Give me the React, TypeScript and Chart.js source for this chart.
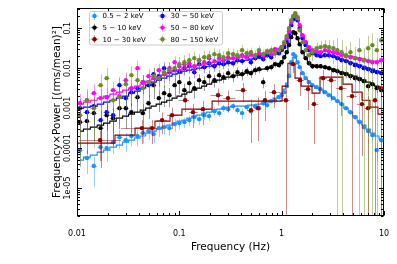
import React, { useEffect, useRef } from "react";
import { Chart, registerables } from "chart.js";

Chart.register(...registerables);

// ---------- data ----------
const FREQ = [
  0.0107, 0.0125, 0.0146, 0.017, 0.0195, 0.0225, 0.026, 0.03, 0.034, 0.039,
  0.044, 0.05, 0.056, 0.063, 0.071, 0.08, 0.09, 0.1, 0.112, 0.125,
  0.14, 0.156, 0.175, 0.195, 0.22, 0.245, 0.27, 0.3, 0.335, 0.37,
  0.41, 0.455, 0.5, 0.55, 0.6, 0.66, 0.72, 0.79, 0.86, 0.94,
  1.0, 1.06, 1.12, 1.18, 1.24, 1.3, 1.36, 1.43, 1.5, 1.6,
  1.72, 1.85, 2.0, 2.2, 2.4, 2.65, 2.9, 3.2, 3.5, 3.85,
  4.25, 4.7, 5.2, 5.75, 6.35, 7.0, 7.7, 8.5, 9.4,
];

// 0.5 - 2 keV
const SOFT = [
  8.91e-5, 5.62e-5, 3.55e-5, 1.06e-4, 1.0e-4, 1.41e-4, 1.88e-4, 1.58e-4, 2.0e-4, 2.0e-4,
  2.37e-4, 2.66e-4, 2.24e-4, 3.16e-4, 3.35e-4, 3.16e-4, 3.98e-4, 4.22e-4, 4.47e-4, 5.01e-4,
  5.96e-4, 5.31e-4, 6.68e-4, 6.31e-4, 8.41e-4, 7.5e-4, 1.0e-3, 9.44e-4, 1.12e-3, 8.91e-4,
  7.5e-4, 1.06e-3, 8.41e-4, 1.12e-3, 1.0e-3, 1.33e-3, 1.19e-3, 1.5e-3, 1.58e-3, 1.88e-3,
  2.11e-3, 2.51e-3, 3.55e-3, 6.31e-3, 0.0141, 0.0224, 0.02, 0.0141, 0.0106, 7.5e-3,
  5.62e-3, 4.47e-3, 3.76e-3, 3.35e-3, 2.99e-3, 2.51e-3, 2.11e-3, 1.78e-3, 1.5e-3, 1.26e-3,
  1.0e-3, 7.94e-4, 5.96e-4, 4.47e-4, 3.35e-4, 2.66e-4, 2.11e-4, 8.91e-5, 1.58e-4,
];
const SOFT_ERR = [
  0.6, 0.6, 0.7, 0.55, 0.55, 0.5, 0.5, 0.5, 0.45, 0.45,
  0.45, 0.4, 0.4, 0.4, 0.35, 0.35, 0.35, 0.3, 0.3, 0.3,
  0.3, 0.3, 0.25, 0.25, 0.25, 0.2, 0.2, 0.2, 0.2, 0.2,
  0.3, 0.2, 0.2, 0.18, 0.15, 0.15, 0.15, 0.12, 0.12, 0.12,
  0.1, 0.1, 0.08, 0.07, 0.06, 0.05, 0.05, 0.06, 0.06, 0.07,
  0.08, 0.08, 0.08, 0.08, 0.08, 0.08, 0.1, 0.1, 0.1, 0.12,
  0.12, 0.15, 0.15, 0.2, 0.2, 0.25, 0.3, 0.5, 0.35,
];
const SOFT_MODEL = [
  5.01e-5, 5.96e-5, 6.68e-5, 7.94e-5, 8.91e-5, 1.06e-4, 1.19e-4, 1.41e-4, 1.58e-4, 1.78e-4,
  2.0e-4, 2.37e-4, 2.66e-4, 2.99e-4, 3.35e-4, 3.76e-4, 4.22e-4, 4.73e-4, 5.01e-4, 5.62e-4,
  6.31e-4, 6.68e-4, 7.5e-4, 7.94e-4, 8.91e-4, 9.44e-4, 1.0e-3, 1.06e-3, 1.12e-3, 1.12e-3,
  1.12e-3, 1.12e-3, 1.19e-3, 1.19e-3, 1.26e-3, 1.33e-3, 1.41e-3, 1.58e-3, 1.78e-3, 2.0e-3,
  2.37e-3, 2.99e-3, 4.22e-3, 7.08e-3, 0.0133, 0.0188, 0.0178, 0.0133, 0.01, 7.08e-3,
  5.31e-3, 4.22e-3, 3.55e-3, 3.16e-3, 2.82e-3, 2.51e-3, 2.11e-3, 1.78e-3, 1.5e-3, 1.26e-3,
  1.0e-3, 7.94e-4, 6.31e-4, 4.73e-4, 3.76e-4, 2.99e-4, 2.37e-4, 2.0e-4, 1.68e-4,
];

// 5 - 10 keV
const H1 = [
  4.47e-4, 4.73e-4, 7.5e-4, 3.16e-4, 6.68e-4, 5.62e-4, 1.0e-3, 1.0e-3, 7.94e-4, 1.88e-3,
  7.5e-4, 1.33e-3, 3.76e-3, 1.78e-3, 2.37e-3, 2.11e-3, 3.76e-3, 4.47e-3, 2.82e-3, 4.22e-3,
  3.16e-3, 5.01e-3, 4.47e-3, 6.31e-3, 5.01e-3, 6.68e-3, 5.96e-3, 7.5e-3, 6.31e-3, 7.94e-3,
  7.08e-3, 8.41e-3, 7.5e-3, 8.91e-3, 9.44e-3, 4.47e-3, 0.01, 0.0106, 0.0126, 0.0119,
  0.0141, 0.0188, 0.0251, 0.0376, 0.0596, 0.0794, 0.075, 0.0562, 0.0398, 0.0251,
  0.0178, 0.0133, 0.0112, 0.0112, 0.0112, 0.0106, 0.01, 8.91e-3, 8.41e-3, 7.5e-3,
  7.08e-3, 6.31e-3, 5.62e-3, 5.31e-3, 4.73e-3, 3.55e-3, 3.98e-3, 3.16e-3, 2.82e-3,
];
const H1_ERR = [
  0.85, 0.85, 0.8, 0.9, 0.8, 0.8, 0.7, 0.7, 0.7, 0.6,
  0.7, 0.6, 0.55, 0.55, 0.55, 0.5, 0.5, 0.5, 0.45, 0.45,
  0.45, 0.4, 0.4, 0.4, 0.35, 0.35, 0.3, 0.3, 0.3, 0.3,
  0.3, 0.25, 0.25, 0.25, 0.2, 0.3, 0.2, 0.18, 0.18, 0.15,
  0.15, 0.12, 0.1, 0.08, 0.07, 0.06, 0.06, 0.07, 0.08, 0.1,
  0.12, 0.14, 0.15, 0.15, 0.15, 0.15, 0.15, 0.15, 0.18, 0.18,
  0.2, 0.2, 0.2, 0.22, 0.22, 0.25, 0.25, 0.25, 0.28,
];
const H1_MODEL = [
  2.66e-4, 2.99e-4, 3.35e-4, 3.76e-4, 4.22e-4, 4.73e-4, 5.62e-4, 6.31e-4, 7.08e-4, 7.94e-4,
  8.91e-4, 1.0e-3, 1.12e-3, 1.26e-3, 1.41e-3, 1.58e-3, 1.78e-3, 2.0e-3, 2.24e-3, 2.51e-3,
  2.82e-3, 3.16e-3, 3.55e-3, 3.98e-3, 4.47e-3, 5.01e-3, 5.31e-3, 5.96e-3, 6.31e-3, 6.68e-3,
  7.08e-3, 7.5e-3, 7.94e-3, 8.41e-3, 8.91e-3, 9.44e-3, 0.01, 0.0106, 0.0119, 0.0133,
  0.015, 0.0188, 0.0251, 0.0376, 0.0596, 0.075, 0.0708, 0.0531, 0.0376, 0.0251,
  0.0178, 0.0141, 0.0119, 0.0112, 0.0106, 0.0106, 0.01, 9.44e-3, 8.41e-3, 7.94e-3,
  7.5e-3, 6.68e-3, 6.31e-3, 5.62e-3, 5.01e-3, 4.47e-3, 3.98e-3, 3.55e-3, 3.16e-3,
];

// 10 - 30 keV (coarser binning)
const RED_FREQ = [
  0.0168, 0.0431, 0.0541, 0.0678, 0.0848, 0.114, 0.136, 0.17, 0.239, 0.299,
  0.419, 0.501, 0.587, 0.687, 0.841, 1.1, 1.29, 1.51, 1.81, 2.07,
  2.54, 3.04, 3.8, 4.87, 6.09, 6.98, 8.17, 9.35,
];
const H2 = [
  1.58e-4, 3.16e-4, 3.16e-4, 5.01e-4, 6.68e-4, 1.58e-3, 7.94e-4, 9.44e-4, 2.11e-3, 1.78e-3,
  2.82e-3, 8.91e-4, 1.0e-3, 1.58e-3, 2.51e-3, 1.58e-3, 0.0126, 5.01e-3, 2.99e-3, 1.26e-3,
  5.62e-3, 5.01e-3, 3.16e-3, 2.0e-3, 1.26e-3, 1.0e-3, 1.58e-3, 3.16e-3,
];
const H2_ERR = [
  0.7, 0.6, 0.6, 0.55, 0.55, 0.5, 0.6, 0.6, 0.45, 0.55,
  0.5, 0.85, 0.85, 0.7, 0.6, 1.0, 0.4, 0.6, 0.7, 0.9,
  0.6, 0.7, 0.8, 1.0, 0.95, 1.0, 1.0, 1.0,
];
const RED_MODEL_FREQ = [
  0.01, 0.0235, 0.0369, 0.0578, 0.0811, 0.106, 0.209, 1.01, 1.15, 1.35,
  1.55, 1.98, 2.37, 3.17, 3.97, 4.87, 6.1, 7.29, 8.73, 10,
];
const H2_MODEL = [
  1.33e-4, 2.11e-4, 3.16e-4, 4.73e-4, 6.68e-4, 9.44e-4, 1.5e-3, 3.55e-3, 0.0133, 5.62e-3,
  3.55e-3, 2.37e-3, 5.96e-3, 5.96e-3, 3.98e-3, 2.51e-3, 1.58e-3, 1.06e-3, 7.08e-4, 7.08e-4,
];

// 30 - 50 keV
const H3 = [
  1.0e-3, 7.94e-4, 1.12e-3, 5.01e-4, 7.94e-4, 6.68e-4, 3.76e-3, 1.78e-3, 2.51e-3, 3.16e-3,
  4.47e-3, 3.76e-3, 7.08e-3, 6.31e-3, 0.01, 7.94e-3, 8.91e-3, 8.41e-3, 0.01, 0.0112,
  7.94e-3, 0.0126, 0.0106, 0.0133, 0.0112, 0.0133, 0.0126, 0.0141, 0.0133, 0.0158,
  0.015, 0.0188, 0.0141, 0.0178, 0.02, 0.0168, 0.0211, 0.0188, 0.0237, 0.0237,
  0.0282, 0.0335, 0.0447, 0.0668, 0.119, 0.168, 0.188, 0.158, 0.1, 0.0562,
  0.0376, 0.0282, 0.0237, 0.0211, 0.02, 0.0211, 0.0211, 0.02, 0.0178, 0.0158,
  0.015, 0.0133, 0.0119, 0.0112, 0.01, 9.44e-3, 8.41e-3, 7.94e-3, 7.5e-3,
];
const H3_ERR = [
  0.65, 0.65, 0.65, 0.75, 0.65, 0.65, 0.55, 0.6, 0.55, 0.55,
  0.5, 0.5, 0.45, 0.45, 0.4, 0.4, 0.35, 0.35, 0.35, 0.35,
  0.3, 0.3, 0.3, 0.28, 0.28, 0.25, 0.25, 0.22, 0.22, 0.2,
  0.2, 0.18, 0.18, 0.16, 0.16, 0.15, 0.14, 0.13, 0.12, 0.12,
  0.1, 0.1, 0.08, 0.07, 0.06, 0.05, 0.05, 0.06, 0.07, 0.08,
  0.1, 0.1, 0.1, 0.1, 0.1, 0.1, 0.1, 0.1, 0.12, 0.12,
  0.12, 0.13, 0.14, 0.15, 0.15, 0.16, 0.18, 0.18, 0.2,
];
const H3_MODEL = [
  1.0e-3, 1.06e-3, 1.12e-3, 1.26e-3, 1.41e-3, 1.58e-3, 1.78e-3, 2.0e-3, 2.37e-3, 2.66e-3,
  3.16e-3, 3.76e-3, 4.47e-3, 5.01e-3, 5.62e-3, 6.31e-3, 7.08e-3, 7.5e-3, 8.41e-3, 8.91e-3,
  9.44e-3, 0.01, 0.0106, 0.0112, 0.0119, 0.0126, 0.0126, 0.0133, 0.0141, 0.015,
  0.015, 0.0158, 0.0168, 0.0178, 0.0178, 0.0188, 0.02, 0.0211, 0.0237, 0.0266,
  0.0299, 0.0355, 0.0473, 0.0708, 0.119, 0.168, 0.178, 0.15, 0.1, 0.0596,
  0.0398, 0.0299, 0.0251, 0.0224, 0.0211, 0.0211, 0.0211, 0.02, 0.0188, 0.0168,
  0.0158, 0.0141, 0.0133, 0.0119, 0.0112, 0.01, 9.44e-3, 8.41e-3, 7.94e-3,
];

// 50 - 80 keV
const H4 = [
  1.33e-3, 1.58e-3, 2.37e-3, 1.78e-3, 1.88e-3, 2.82e-3, 2.0e-3, 5.01e-3, 3.16e-3, 0.01,
  4.47e-3, 6.31e-3, 5.62e-3, 8.91e-3, 7.08e-3, 0.01, 0.0141, 0.0112, 0.0126, 0.0133,
  0.0112, 0.0158, 0.0141, 0.0178, 0.015, 0.0178, 0.0158, 0.0188, 0.0178, 0.02,
  0.0211, 0.0188, 0.0224, 0.02, 0.0237, 0.0211, 0.0266, 0.0224, 0.0299, 0.0282,
  0.0335, 0.0422, 0.0562, 0.0841, 0.141, 0.2, 0.224, 0.188, 0.119, 0.0668,
  0.0447, 0.0335, 0.0282, 0.0266, 0.0251, 0.0282, 0.0266, 0.0251, 0.0237, 0.0211,
  0.02, 0.0188, 0.0178, 0.0168, 0.0158, 0.015, 0.0141, 0.0141, 0.0158,
];
const H4_ERR = [
  0.7, 0.65, 0.65, 0.65, 0.65, 0.6, 0.6, 0.55, 0.55, 0.55,
  0.5, 0.5, 0.45, 0.45, 0.4, 0.4, 0.4, 0.35, 0.35, 0.35,
  0.35, 0.3, 0.3, 0.28, 0.28, 0.25, 0.25, 0.22, 0.22, 0.2,
  0.2, 0.2, 0.18, 0.18, 0.16, 0.15, 0.15, 0.14, 0.12, 0.12,
  0.12, 0.1, 0.09, 0.08, 0.07, 0.06, 0.06, 0.07, 0.07, 0.08,
  0.1, 0.12, 0.12, 0.12, 0.12, 0.12, 0.12, 0.12, 0.14, 0.14,
  0.15, 0.15, 0.16, 0.17, 0.18, 0.18, 0.2, 0.2, 0.22,
];
const H4_MODEL = [
  1.26e-3, 1.41e-3, 1.58e-3, 1.78e-3, 2.0e-3, 2.24e-3, 2.51e-3, 2.82e-3, 3.16e-3, 3.55e-3,
  3.98e-3, 4.73e-3, 5.31e-3, 5.96e-3, 6.68e-3, 7.5e-3, 8.41e-3, 8.91e-3, 0.01, 0.0106,
  0.0112, 0.0119, 0.0126, 0.0133, 0.0141, 0.015, 0.0158, 0.0168, 0.0178, 0.0178,
  0.0188, 0.02, 0.02, 0.0211, 0.0224, 0.0237, 0.0251, 0.0266, 0.0282, 0.0316,
  0.0355, 0.0422, 0.0562, 0.0841, 0.133, 0.188, 0.2, 0.168, 0.112, 0.0668,
  0.0447, 0.0335, 0.0282, 0.0266, 0.0251, 0.0266, 0.0266, 0.0251, 0.0237, 0.0224,
  0.0211, 0.02, 0.0188, 0.0178, 0.0168, 0.0158, 0.015, 0.015, 0.015,
];

// 80 - 150 keV
const H5 = [
  6.68e-4, 1.58e-3, 1.0e-3, 3.76e-3, 5.62e-3, 1.58e-3, 1.88e-3, 3.98e-3, 6.68e-3, 5.01e-3,
  3.16e-3, 4.47e-3, 6.31e-3, 5.62e-3, 7.94e-3, 8.91e-3, 0.01, 0.0126, 0.0141, 0.0158,
  0.0178, 0.0158, 0.0188, 0.02, 0.0224, 0.0211, 0.0188, 0.0237, 0.0224, 0.0211,
  0.0282, 0.0237, 0.0251, 0.0211, 0.0282, 0.0224, 0.0251, 0.0282, 0.0237, 0.0282,
  0.0335, 0.0447, 0.0631, 0.1, 0.158, 0.2, 0.237, 0.178, 0.0891, 0.0447,
  0.0282, 0.0211, 0.0251, 0.0316, 0.0335, 0.0355, 0.0335, 0.0316, 0.0282, 0.0251,
  0.0211, 0.0251, 0.0178, 0.0282, 0.0158, 0.0316, 0.0376, 0.0282, 0.05,
];
const H5_ERR = [
  0.95, 0.9, 0.9, 0.85, 0.8, 0.85, 0.8, 0.75, 0.7, 0.7,
  0.7, 0.65, 0.6, 0.6, 0.6, 0.55, 0.55, 0.5, 0.5, 0.5,
  0.45, 0.45, 0.45, 0.4, 0.4, 0.4, 0.4, 0.35, 0.35, 0.35,
  0.35, 0.3, 0.3, 0.3, 0.3, 0.3, 0.28, 0.28, 0.25, 0.25,
  0.25, 0.2, 0.15, 0.12, 0.1, 0.08, 0.08, 0.1, 0.12, 0.2,
  0.3, 0.45, 0.4, 0.4, 0.4, 0.45, 0.5, 0.6, 1.0, 1.0,
  0.7, 0.8, 0.9, 1.0, 1.0, 1.0, 1.0, 1.0, 1.0,
];

const SERIES_LABELS = ["0.5 − 2 keV", "5 − 10 keV", "10 − 30 keV", "30 − 50 keV", "50 − 80 keV", "80 − 150 keV"];
const SERIES_COLORS = ["#1e90ff", "#000000", "#8b0000", "#0000ff", "#ff00ff", "#6b8e23"];
const ERR_COLORS = [
  "rgba(30,144,255,0.45)", "rgba(0,0,0,0.4)", "rgba(139,0,0,0.45)",
  "rgba(0,0,255,0.4)", "rgba(255,0,255,0.4)", "rgba(107,142,35,0.45)",
];

const X_TICKS = [0.01, 0.1, 1, 10];
const X_TICK_LABELS = ["0.01", "0.1", "1", "10"];
const Y_TICKS = [0.1, 0.01, 0.001, 0.0001, 0.00001];
const Y_TICK_LABELS = ["0.1", "0.01", "0.001", "0.0001", "1e-05"];
const X_TITLE = "Frequency (Hz)";
const Y_TITLE = "Frequency×Power [(rms/mean)²]";

// ---------- plugins ----------
const errorBars = {
  id: "errorBars",
  beforeDatasetDraw(chart: any, args: any) {
    const ds = chart.data.datasets[args.index];
    if (!ds.errRel) return;
    const { ctx, chartArea: ca } = chart;
    const xs = chart.scales.x, ys = chart.scales.y;
    const pts = ds.data;
    ctx.save();
    ctx.beginPath();
    ctx.rect(ca.left, ca.top, ca.right - ca.left, ca.bottom - ca.top);
    ctx.clip();
    ctx.strokeStyle = ds.errColor;
    ctx.lineWidth = 1;
    for (let i = 0; i < pts.length; i++) {
      const p = pts[i];
      const e = ds.errRel[i];
      const prevX = i > 0 ? pts[i - 1].x : (p.x * p.x) / pts[i + 1].x;
      const nextX = i < pts.length - 1 ? pts[i + 1].x : (p.x * p.x) / pts[i - 1].x;
      const cx = Math.round(xs.getPixelForValue(p.x)) + 0.5;
      const cy = Math.round(ys.getPixelForValue(p.y)) + 0.5;
      const top = ys.getPixelForValue(p.y * (1 + e));
      const lo = p.y * (1 - e);
      const bot = lo > 0 ? ys.getPixelForValue(lo) : ca.bottom + 5;
      ctx.beginPath();
      ctx.moveTo(cx, top);
      ctx.lineTo(cx, bot);
      ctx.moveTo(xs.getPixelForValue(Math.sqrt(prevX * p.x)), cy);
      ctx.lineTo(xs.getPixelForValue(Math.sqrt(nextX * p.x)), cy);
      ctx.stroke();
    }
    ctx.restore();
  },
};

const decor = {
  id: "decor",
  afterDraw(chart: any) {
    const { ctx, chartArea: ca } = chart;
    const xs = chart.scales.x, ys = chart.scales.y;
    const L = ca.left + 0.5, R = ca.right - 0.5, T = ca.top + 0.5, B = ca.bottom - 0.5;
    ctx.save();
    ctx.strokeStyle = "#000";
    ctx.lineWidth = 1;
    ctx.beginPath();
    const xt = (v: number, len: number) => {
      const px = Math.round(xs.getPixelForValue(v)) + 0.5;
      ctx.moveTo(px, B); ctx.lineTo(px, B - len);
      ctx.moveTo(px, T); ctx.lineTo(px, T + len);
    };
    const yt = (v: number, len: number) => {
      const py = Math.round(ys.getPixelForValue(v)) + 0.5;
      ctx.moveTo(L, py); ctx.lineTo(L + len, py);
      ctx.moveTo(R, py); ctx.lineTo(R - len, py);
    };
    X_TICKS.forEach((v) => xt(v, 4.5));
    for (let d = -2; d < 1; d++) for (let k = 2; k < 10; k++) xt(k * Math.pow(10, d), 2.5);
    Y_TICKS.forEach((v) => yt(v, 4.5));
    for (let d = -6; d < 0; d++)
      for (let k = 2; k < 10; k++) {
        const v = k * Math.pow(10, d);
        if (v >= ys.min && v <= ys.max) yt(v, 2.5);
      }
    ctx.stroke();
    ctx.strokeRect(L, T, R - L, B - T);

    // tick labels
    ctx.fillStyle = "#000";
    ctx.font = '8px "DejaVu Sans"';
    ctx.textAlign = "center";
    ctx.textBaseline = "middle";
    X_TICKS.forEach((v, i) => ctx.fillText(X_TICK_LABELS[i], xs.getPixelForValue(v), ca.bottom + 17.5));
    Y_TICKS.forEach((v, i) => {
      ctx.save();
      ctx.translate(ca.left - 9, ys.getPixelForValue(v));
      ctx.rotate(-Math.PI / 2);
      ctx.fillText(Y_TICK_LABELS[i], 0, 0);
      ctx.restore();
    });
    // titles
    ctx.font = '10.5px "DejaVu Sans"';
    ctx.fillText(X_TITLE, (ca.left + ca.right) / 2, ca.bottom + 31);
    ctx.save();
    ctx.translate(ca.left - 20, (ca.top + ca.bottom) / 2);
    ctx.rotate(-Math.PI / 2);
    ctx.fillText(Y_TITLE, 0, 0);
    ctx.restore();

    // legend
    const lx = ca.left + 12.5, ly = ca.top + 3.5, lw = 133, lh = 33.5;
    ctx.beginPath();
    ctx.roundRect(lx, ly, lw, lh, 2);
    ctx.fillStyle = "rgba(255,255,255,0.85)";
    ctx.fill();
    ctx.strokeStyle = "#cccccc";
    ctx.stroke();
    ctx.font = '7px "DejaVu Sans"';
    ctx.textAlign = "left";
    SERIES_LABELS.forEach((lab, i) => {
      const col = Math.floor(i / 3), row = i % 3;
      const mx = lx + 5 + col * 68, my = ly + 4.5 + row * 11.6;
      ctx.strokeStyle = ERR_COLORS[i];
      ctx.beginPath();
      ctx.moveTo(mx - 4, my); ctx.lineTo(mx + 4, my);
      ctx.moveTo(mx, my - 4); ctx.lineTo(mx, my + 4);
      ctx.stroke();
      ctx.fillStyle = SERIES_COLORS[i];
      ctx.beginPath();
      ctx.arc(mx, my, 2.2, 0, Math.PI * 2);
      ctx.fill();
      ctx.fillStyle = "#000";
      ctx.fillText(lab, mx + 8, my + 0.5);
    });
    ctx.restore();
  },
};

function pts(xs: number[], ys: number[]) {
  return xs.map((x, i) => ({ x, y: ys[i] }));
}

export default function App() {
  const ref = useRef<HTMLCanvasElement | null>(null);
  useEffect(() => {
    document.body.style.margin = "0";
    const scatter = (i: number, xs: number[], ys: number[], err: number[]) => ({
      type: "scatter",
      data: pts(xs, ys),
      errRel: err,
      errColor: ERR_COLORS[i],
      backgroundColor: SERIES_COLORS[i],
      borderColor: SERIES_COLORS[i],
      pointRadius: 2.2,
      pointBorderWidth: 0,
      pointHoverRadius: 2.2,
      showLine: false,
    });
    const model = (i: number, xs: number[], ys: number[], step: any) => ({
      type: "line",
      data: pts(xs, ys),
      borderColor: SERIES_COLORS[i],
      borderWidth: 1.1,
      pointRadius: 0,
      fill: false,
      stepped: step,
      tension: 0,
    });
    const seq: any[] = [
      scatter(0, FREQ, SOFT, SOFT_ERR),
      model(0, FREQ, SOFT_MODEL, "middle"),
      scatter(1, FREQ, H1, H1_ERR),
      model(1, FREQ, H1_MODEL, "middle"),
      scatter(2, RED_FREQ, H2, H2_ERR),
      model(2, RED_MODEL_FREQ, H2_MODEL, "before"),
      scatter(3, FREQ, H3, H3_ERR),
      model(3, FREQ, H3_MODEL, "middle"),
      scatter(4, FREQ, H4, H4_ERR),
      model(4, FREQ, H4_MODEL, "middle"),
      scatter(5, FREQ, H5, H5_ERR),
    ];
    seq.forEach((d, i) => (d.order = seq.length - i));
    const chart = new Chart(ref.current as HTMLCanvasElement, {
      type: "scatter",
      data: { datasets: seq },
      options: {
        animation: false,
        responsive: false,
        devicePixelRatio: 1,
        events: [],
        layout: { padding: { left: 77, right: 13, top: 8, bottom: 48 } },
        scales: {
          x: { type: "logarithmic", min: 0.01, max: 10, display: false },
          y: { type: "logarithmic", min: 2e-6, max: 0.32, display: false },
        },
        plugins: { legend: { display: false }, tooltip: { enabled: false } },
      } as any,
      plugins: [errorBars, decor],
    } as any);
    return () => chart.destroy();
  }, []);
  return (
    <div style={{ width: 397, height: 264 }}>
      <canvas ref={ref} width={397} height={264} style={{ display: "block" }} />
    </div>
  );
}
